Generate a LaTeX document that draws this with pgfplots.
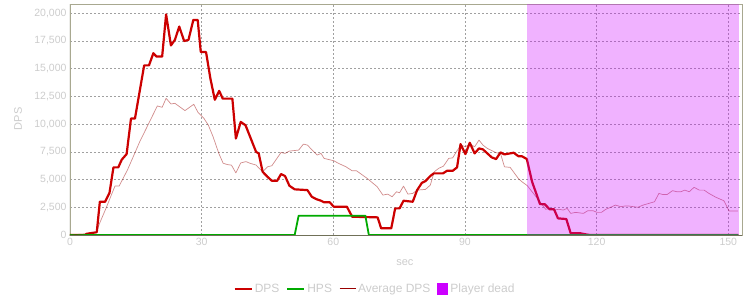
\documentclass[border=0pt]{standalone}
\usepackage{pgfplots}
\pgfplotsset{compat=1.18}
\usepackage{fontspec}
\setmainfont{Liberation Sans}
\definecolor{dpsred}{HTML}{CC0000}
\definecolor{hpsgreen}{HTML}{00AA00}
\definecolor{avgred}{HTML}{990000}
\definecolor{deadpurple}{HTML}{CC00FF}
\definecolor{lbl}{HTML}{CCCCCC}
\definecolor{framedark}{HTML}{707058}
\definecolor{framelight}{HTML}{A8A890}
\definecolor{gridc}{HTML}{A0A0A0}
\begin{document}
\begin{tikzpicture}
\path[use as bounding box] (0,0) rectangle (750pt,300pt);
\begin{axis}[
  at={(70pt,65pt)}, anchor=south west,
  scale only axis, width=672.3pt, height=230.7pt,
  xmin=0, xmax=153.2, ymin=0, ymax=20810,
  xtick={0,30,60,90,120,150},
  ytick={0,2500,5000,7500,10000,12500,15000,17500,20000},
  scaled y ticks=false,
  /pgf/number format/.cd, fixed, 1000 sep={,}, assume math mode=true, /pgfplots/.cd,
  tick label style={font=\fontsize{10.5}{12}\selectfont, text=lbl},
  major tick length=0pt,
  grid=major,
  major grid style={draw=gridc, dash pattern=on 2pt off 2pt, line width=0.5pt},
  axis line style={draw=framelight, line width=0.6pt},
  xlabel={sec}, ylabel={DPS},
  label style={font=\fontsize{11}{13}\selectfont, text=lbl},
  xlabel style={at={(axis description cs:0.498,-0.121)}, anchor=center},
  ylabel style={at={(axis description cs:-0.0773,0.503)}, anchor=center},
  legend style={at={(0.4537,-0.234)}, anchor=center, draw=none, fill=none,
    legend columns=-1, font=\fontsize{12}{14}\selectfont, text=lbl,
    /tikz/every even column/.append style={column sep=5pt}},
  legend cell align=left,
]
\addplot[dpsred, line width=2.2pt, line join=round] coordinates {
(0,0) (3.4,0) (3.8,110) (6.1,250) (6.8,3000) (8,3000) (9,3800) (9.9,6100) (11,6100)
(11.8,6800) (12.9,7300) (13.9,10500) (14.8,10500) (16.9,15300) (18,15300) (19,16400)
(19.7,16100) (21,16100) (21.9,19900) (23,17100) (23.9,17600) (24.9,18800) (26,17500)
(27,17600) (28.1,19400) (29.1,19400) (29.8,16500) (31,16500) (32,14100) (33,12200)
(34,13000) (34.8,12300) (37,12300) (37.8,8700) (38.9,10200) (40,9900) (42.4,7500)
(43,7360) (43.9,5700) (45,5250) (46,4890) (47.2,4890) (48.1,5500) (49,5320) (50,4440)
(51.2,4120) (54.1,4050) (55.1,3450) (56.1,3240) (57.2,3090) (57.9,2950) (59.2,2950)
(60.1,2550) (63.1,2550) (64.3,1650) (70.1,1590) (70.9,600) (73.2,600) (74.1,2400)
(75.1,2400) (76,3090) (78.1,3000) (79.1,4050) (80.2,4710) (81,4860) (82.1,5320)
(82.9,5560) (85,5560) (85.9,5790) (87.2,5790) (88.2,6100) (89,8200) (90.1,7300)
(91.1,8320) (92.2,7360) (93.2,7810) (94.1,7720) (95.1,7360) (96.1,7000) (97.1,6850)
(98.1,7450) (99,7270) (101.1,7420) (102.2,7100) (103,7100) (104.1,6850) (105.3,4800)
(107.1,2790) (108.2,2770) (109.3,2320) (110.3,2320) (111.2,1500) (113.1,1440)
(114.1,150) (116.4,150) (117.5,60) (118.5,0) (152.3,0)
};
\addlegendentry{DPS}
\addplot[hpsgreen, line width=1.8pt, line join=round] coordinates {
(0,0) (51.2,0) (52.1,1740) (67.3,1740) (68.1,0) (152.3,0)
};
\addlegendentry{HPS}
\addplot[avgred, line width=0.7pt, opacity=0.45, line join=round,
  legend image code/.code={\draw[avgred, line width=1pt, opacity=1] (0pt,0pt) -- (16pt,0pt);}] coordinates {
(0,0) (1.5,50) (3,80) (6,230) (6.8,1110) (8.2,2400) (10.25,4420) (11.2,4420)
(13.1,5870) (15.9,8420) (19.9,11640) (21,11520) (21.9,12330) (23,11820) (23.9,11880)
(26.2,11220) (28.2,11790) (29.2,11040) (30.5,10530) (31.5,9930) (32.6,8870)
(33.9,7370) (34.9,6470) (35.9,6350) (36.8,6300) (37.8,5600) (38.9,6500) (40.1,6620)
(41.1,6460) (42.4,6310) (43.9,5700) (45,6150) (46,6250) (48.1,7450) (49,7360)
(50,7570) (52.1,7660) (53.2,8200) (54.1,8110) (56.3,7210) (57.2,7360) (57.9,6910)
(60.1,6700) (61.2,6460) (62.9,6150) (64.3,5790) (65.3,5790) (67.7,5110) (70,4350)
(71.3,3600) (72.4,3690) (73.4,3450) (74.4,3900) (75.1,3810) (76,4410) (77,3690)
(78.1,3750) (79.1,4050) (81,4110) (82.1,4500) (83,5700) (84,6010) (85.1,6210)
(86.3,6910) (87.2,6960) (88.2,7600) (89.1,8110) (90.1,7960) (91.1,8200) (92.2,7960)
(93.2,8560) (94.1,8110) (95.1,7810) (97.1,7420) (98.1,7360) (99,6150) (100.3,6100)
(102.2,5080) (103,4800) (104.2,4450) (106.5,3300) (108.4,2320) (109.5,2400)
(110.3,2250) (111.4,2320) (112.4,2250) (113.3,2400) (114.1,1950) (115.2,2040)
(117,1950) (118,2190) (119.2,2190) (120.1,2040) (121.1,2040) (122.1,2320)
(123.2,2500) (124.3,2700) (125.5,2550) (126.4,2610) (127.4,2610) (128.5,2550)
(129.4,2500) (130.6,2700) (131.9,2850) (133.2,3000) (134.2,3750) (135,3660)
(136.1,3660) (137.3,4000) (138.3,3900) (139.2,3900) (140.1,4050) (141.1,3900)
(142.2,4300) (143.4,4050) (144.5,4050) (145.6,3750) (147.2,3400) (149,3090)
(150.2,2160) (152.2,2160)
};
\addlegendentry{Average DPS}
\addplot[draw=none, fill=deadpurple, fill opacity=0.3,
  legend image code/.code={\fill[deadpurple, fill opacity=1, opacity=1] (0pt,-6pt) rectangle (11pt,6pt);}]
  coordinates {(104.2,20810) (152.5,20810)} \closedcycle;
\addlegendentry{Player dead}
\draw[framedark, line width=1pt] (rel axis cs:0,1) -- (rel axis cs:0,0) -- (rel axis cs:1,0);
\end{axis}
\end{tikzpicture}
\end{document}
